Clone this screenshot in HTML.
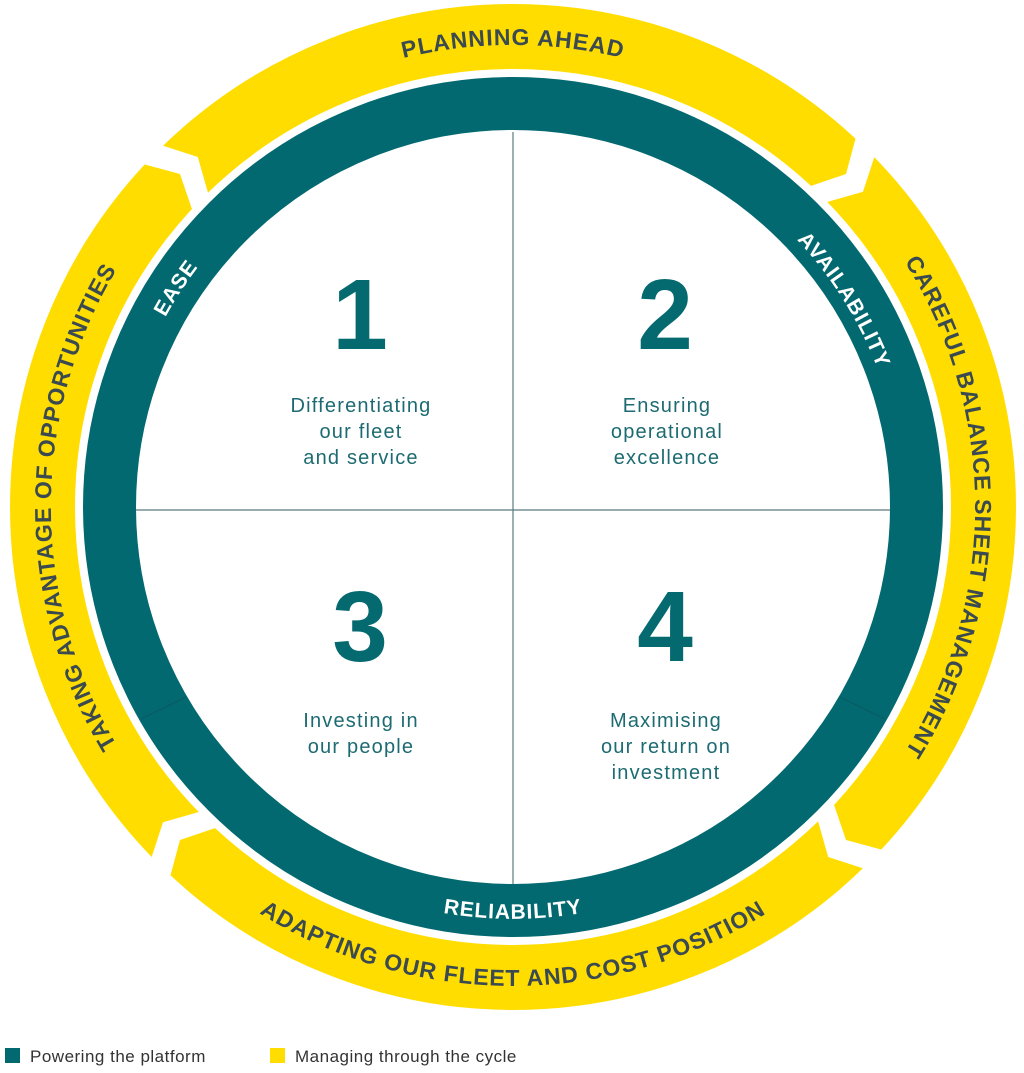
<!DOCTYPE html>
<html><head><meta charset="utf-8"><style>
html,body{margin:0;padding:0;background:#fff;}
svg{display:block;}
.y{font-family:"Liberation Sans",sans-serif;font-weight:bold;font-size:23px;fill:#3a4a50;letter-spacing:1px;}
.t{font-family:"Liberation Sans",sans-serif;font-weight:bold;font-size:21px;fill:#fff;letter-spacing:1px;}
.n{font-family:"Liberation Sans",sans-serif;font-weight:bold;font-size:100px;fill:#046a70;}
.c{font-family:"Liberation Sans",sans-serif;font-size:20px;fill:#1d6b72;letter-spacing:1.2px;}
.l{font-family:"Liberation Sans",sans-serif;font-size:17px;fill:#333;letter-spacing:0.5px;}
</style></head><body>
<svg width="1024" height="1073" viewBox="0 0 1024 1073" xmlns="http://www.w3.org/2000/svg">
<defs>
<path id="pTop" d="M58,429.8 A462,462 0 0 1 968,429.8"/>
<path id="pRight" d="M593.2,55 A462,462 0 0 1 593.2,965"/>
<path id="pLeft" d="M432.8,965 A462,462 0 0 1 432.8,55"/>
<path id="pBot" d="M41.3,593.2 A479,479 0 0 0 984.7,593.2"/>
<path id="pEase" d="M297.3,842.1 A396,396 0 0 1 728.7,177.9"/>
<path id="pAvail" d="M303.2,174.2 A396,396 0 0 1 722.8,845.8"/>
<path id="pRel" d="M101,510 A412,412 0 0 0 925,510"/>
</defs>
<g transform="translate(0,-3)">
<circle cx="513" cy="510" r="470.5" fill="none" stroke="#FFDD00" stroke-width="65"/>
<g fill="#fff">
<polygon points="137,165.4 180,177 193.8,217.5 209.5,201.1 197.8,160 155.5,146.2"/>
<polygon points="137,165.4 180,177 193.8,217.5 209.5,201.1 197.8,160 155.5,146.2" transform="rotate(90 513 510)"/>
<polygon points="137,165.4 180,177 193.8,217.5 209.5,201.1 197.8,160 155.5,146.2" transform="rotate(180 513 510)"/>
<polygon points="137,165.4 180,177 193.8,217.5 209.5,201.1 197.8,160 155.5,146.2" transform="rotate(270 513 510)"/>
</g>
<circle cx="513" cy="510" r="403.5" fill="none" stroke="#036970" stroke-width="53"/>
<line x1="141" y1="722" x2="186" y2="700" stroke="#0a5a60" stroke-width="1"/>
<line x1="840" y1="700" x2="885" y2="722" stroke="#0a5a60" stroke-width="1"/>
<text class="y"><textPath href="#pTop" startOffset="50%" text-anchor="middle">PLANNING AHEAD</textPath></text>
<text class="y"><textPath href="#pRight" startOffset="50%" text-anchor="middle">CAREFUL BALANCE SHEET MANAGEMENT</textPath></text>
<text class="y"><textPath href="#pLeft" startOffset="50%" text-anchor="middle">TAKING ADVANTAGE OF OPPORTUNITIES</textPath></text>
<text class="y"><textPath href="#pBot" startOffset="50%" text-anchor="middle">ADAPTING OUR FLEET AND COST POSITION</textPath></text>
<text class="t"><textPath href="#pEase" startOffset="50%" text-anchor="middle">EASE</textPath></text>
<text class="t"><textPath href="#pAvail" startOffset="50%" text-anchor="middle">AVAILABILITY</textPath></text>
<text class="t"><textPath href="#pRel" startOffset="50%" text-anchor="middle">RELIABILITY</textPath></text>
</g>
<line x1="513" y1="132" x2="513" y2="884" stroke="#5a7a80" stroke-width="1.2"/>
<line x1="136" y1="510" x2="890" y2="510" stroke="#5a7a80" stroke-width="1.2"/>
<text class="n" x="360" y="349" text-anchor="middle">1</text>
<text class="n" x="665" y="349" text-anchor="middle">2</text>
<text class="n" x="360" y="661" text-anchor="middle">3</text>
<text class="n" x="665" y="661" text-anchor="middle">4</text>
<text class="c" text-anchor="middle"><tspan x="361" y="412">Differentiating</tspan><tspan x="361" y="438">our fleet</tspan><tspan x="361" y="464">and service</tspan></text>
<text class="c" text-anchor="middle"><tspan x="667" y="412">Ensuring</tspan><tspan x="667" y="438">operational</tspan><tspan x="667" y="464">excellence</tspan></text>
<text class="c" text-anchor="middle"><tspan x="361" y="727">Investing in</tspan><tspan x="361" y="753">our people</tspan></text>
<text class="c" text-anchor="middle"><tspan x="666" y="727">Maximising</tspan><tspan x="666" y="753">our return on</tspan><tspan x="666" y="779">investment</tspan></text>
<rect x="5" y="1048" width="15" height="15" fill="#036970"/>
<text class="l" x="30" y="1062">Powering the platform</text>
<rect x="270" y="1048" width="15" height="15" fill="#FFDD00"/>
<text class="l" x="295" y="1062">Managing through the cycle</text>
</svg>
</body></html>
